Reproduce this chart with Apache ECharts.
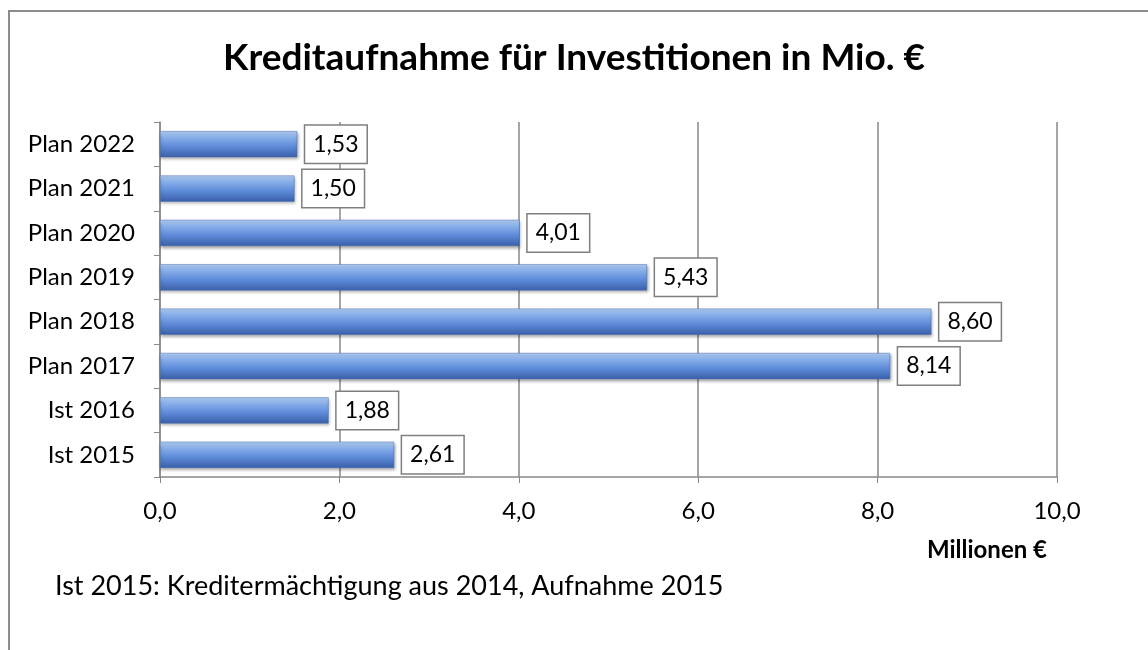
<!DOCTYPE html>
<html>
<head>
<meta charset="utf-8">
<script src="https://cdn.jsdelivr.net/npm/echarts@6/dist/echarts.min.js"></script>
<style>
  html, body { margin: 0; padding: 0; background: #fff; }
  #chart { width: 1148px; height: 650px; }
</style>
</head>
<body>
<div id="chart"></div>
<script>
// Kategorien (von unten nach oben) und Werte in Mio. €
const categories = ['Ist 2015', 'Ist 2016', 'Plan 2017', 'Plan 2018', 'Plan 2019', 'Plan 2020', 'Plan 2021', 'Plan 2022'];
const values = [2.61, 1.88, 8.14, 8.60, 5.43, 4.01, 1.50, 1.53];
const axisMin = 0;
const axisMax = 10;
const axisStep = 2;

const font = 'Lato, "Open Sans", sans-serif';

const chart = echarts.init(document.getElementById('chart'));

const option = {
  animation: false,
  backgroundColor: '#fff',
  textStyle: { fontFamily: font },
  title: {
    text: 'Kreditaufnahme für Investitionen in Mio. €',
    left: 'center',
    top: 35,
    textStyle: { fontSize: 37, fontWeight: 'bold', color: '#000', fontFamily: font }
  },
  grid: { left: 160, right: 91, top: 122, bottom: 173 },
  xAxis: {
    type: 'value',
    min: axisMin,
    max: axisMax,
    interval: axisStep,
    name: 'Millionen €',
    nameLocation: 'end',
    nameGap: 0,
    nameTextStyle: {
      fontSize: 24, fontWeight: 'bold', color: '#000',
      align: 'right', verticalAlign: 'top', padding: [61, 10, 0, 0]
    },
    axisLine: { show: true, lineStyle: { color: '#888', width: 1.5 } },
    axisTick: { show: true, length: 6, lineStyle: { color: '#888' } },
    axisLabel: {
      fontSize: 24, color: '#000', margin: 22,
      formatter: v => v.toFixed(1).replace('.', ',')
    },
    splitLine: { show: true, lineStyle: { color: '#888', width: 1.5 } }
  },
  yAxis: {
    type: 'category',
    data: categories,
    axisLine: { show: true, lineStyle: { color: '#888', width: 1.5 } },
    axisTick: { show: true, length: 6, lineStyle: { color: '#888' } },
    axisLabel: { fontSize: 24, color: '#000', margin: 25 }
  },
  series: [{
    type: 'bar',
    data: values,
    barCategoryGap: '41%',
    itemStyle: {
      color: new echarts.graphic.LinearGradient(0, 0, 0, 1, [
        { offset: 0, color: '#b5d0f5' },
        { offset: 0.25, color: '#86aeea' },
        { offset: 0.6, color: '#5d8ad8' },
        { offset: 1, color: '#3a5fa8' }
      ]),
      borderColor: '#4a70b8',
      borderWidth: 0.5,
      shadowColor: 'rgba(0,0,0,0.35)',
      shadowBlur: 3,
      shadowOffsetX: 1,
      shadowOffsetY: 2
    },
    label: {
      show: true,
      position: 'right',
      distance: 8,
      fontSize: 23,
      color: '#000',
      backgroundColor: '#fff',
      borderColor: '#7f7f7f',
      borderWidth: 1.5,
      padding: [8, 8, 6, 8],
      formatter: p => p.value.toFixed(2).replace('.', ',')
    }
  }],
  graphic: [
    {
      type: 'rect',
      shape: { x: 9, y: 11, width: 1200, height: 700 },
      style: { fill: 'none', stroke: '#8c8c8c', lineWidth: 2 },
      silent: true
    },
    {
      type: 'text',
      left: 55,
      top: 573,
      style: {
        text: 'Ist 2015: Kreditermächtigung aus 2014, Aufnahme 2015',
        fontSize: 27,
        fontFamily: font,
        fill: '#000'
      }
    }
  ]
};

chart.setOption(option);
</script>
</body>
</html>
